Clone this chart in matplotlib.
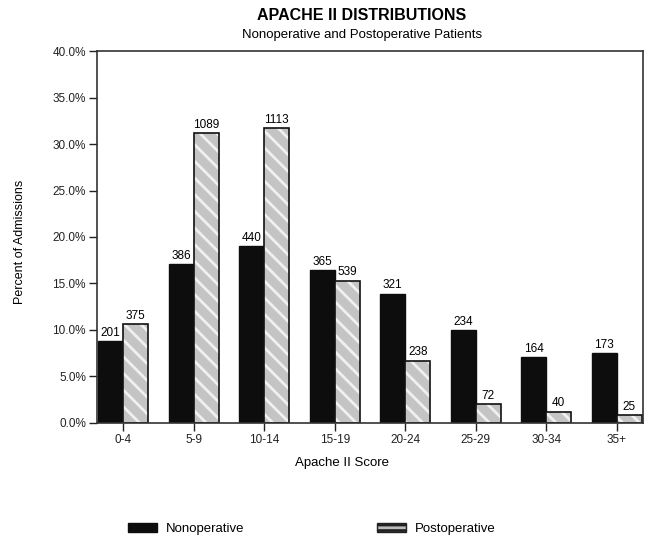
import matplotlib
matplotlib.use('Agg')
import matplotlib.pyplot as plt, numpy as np
from matplotlib.patches import Patch

plt.rcParams['font.family'] = ['Liberation Sans', 'DejaVu Sans']
plt.rcParams['hatch.linewidth'] = 2.0

# Data
scores = ['0-4', '5-9', '10-14', '15-19', '20-24', '25-29', '30-34', '35+']
nonop_pct = [8.8, 17.1, 19.0, 16.4, 13.9, 10.0, 7.1, 7.5]
postop_pct = [10.6, 31.2, 31.7, 15.3, 6.7, 2.0, 1.2, 0.8]
nonop_n = [201, 386, 440, 365, 321, 234, 164, 173]
postop_n = [375, 1089, 1113, 539, 238, 72, 40, 25]

fig = plt.figure(figsize=(6.52, 5.38), dpi=100)
ax = fig.add_axes([0.149, 0.214, 0.837, 0.691])

x = np.arange(len(scores))
w = 0.355

ax.bar(x - w/2, nonop_pct, w, color='#0d0d0d', edgecolor='#0d0d0d', linewidth=1)
# postoperative: light gray with white diagonal hatch, black outline
ax.bar(x + w/2, postop_pct, w, color='#c4c4c4', edgecolor='#f0f0f0', hatch='\\\\', linewidth=0)
ax.bar(x + w/2, postop_pct, w, fill=False, edgecolor='#111111', linewidth=1.2)

for xi, v, n in zip(x - w/2, nonop_pct, nonop_n):
    ax.text(xi, v + 0.25, str(n), ha='center', va='bottom', fontsize=8.5)
for xi, v, n in zip(x + w/2, postop_pct, postop_n):
    ax.text(xi, v + 0.25, str(n), ha='center', va='bottom', fontsize=8.5)

ax.set_xlim(-0.37, 7.37)
ax.set_ylim(0, 40)
ax.set_yticks(np.arange(0, 41, 5))
ax.set_yticklabels([f'{v:.1f}%' for v in np.arange(0, 41, 5)], fontsize=8.5)
ax.set_xticks(x)
ax.set_xticklabels(scores, fontsize=8.5)
ax.tick_params(direction='out', length=6, width=1, pad=2, colors='#222222')
for s in ax.spines.values():
    s.set_linewidth(1.2)
    s.set_color('#333333')

ax.set_ylabel('Percent of Admissions', fontsize=9, va='center')
ax.yaxis.set_label_coords(-0.141, 0.486)
ax.set_xlabel('Apache II Score', fontsize=9.5, va='center')
ax.xaxis.set_label_coords(0.449, -0.108)

fig.text(0.555, 0.972, 'APACHE II DISTRIBUTIONS', ha='center', va='center',
         fontsize=11.5, fontweight='bold')
fig.text(0.555, 0.935, 'Nonoperative and Postoperative Patients', ha='center',
         va='center', fontsize=9.5)

handles = [Patch(facecolor='#0d0d0d', edgecolor='#0d0d0d'),
           Patch(facecolor='#bbbbbb', edgecolor='#222222', hatch='---')]
fig.legend(handles, ['Nonoperative', 'Postoperative'], loc='center',
           bbox_to_anchor=(0.478, 0.017), ncol=2, frameon=False, fontsize=9.5,
           handlelength=2.2, handleheight=0.7, handletextpad=0.68, columnspacing=10)

fig.savefig('out.png', dpi=100)
